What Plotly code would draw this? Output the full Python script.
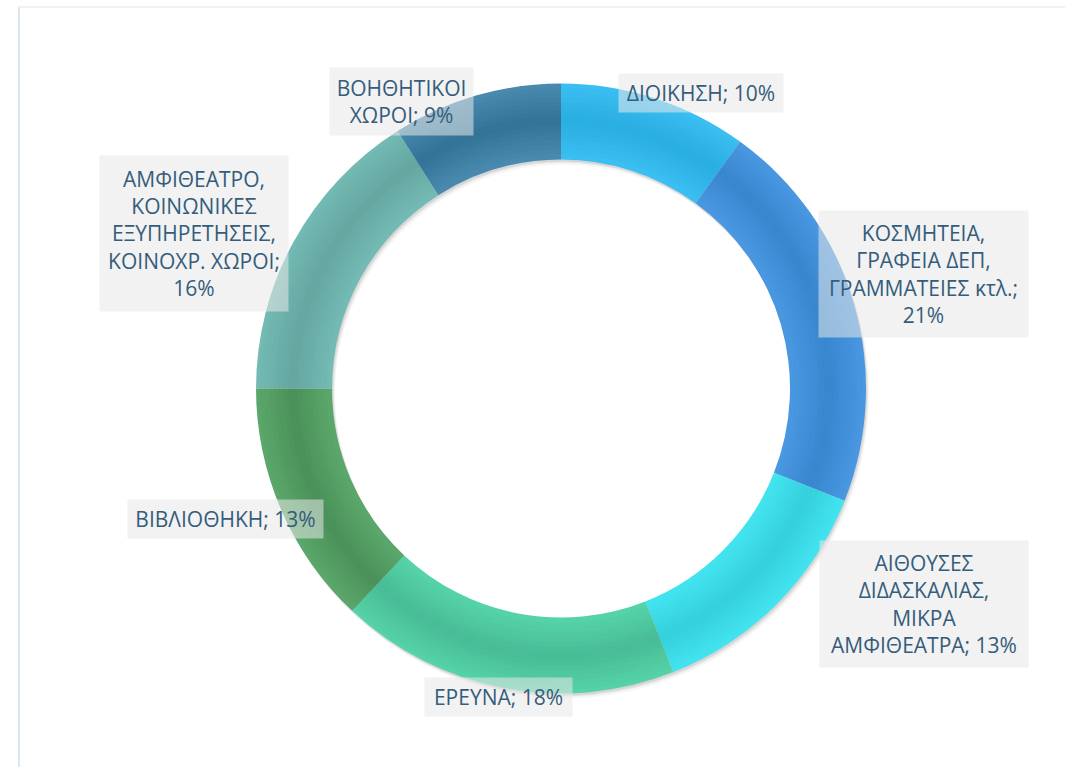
import plotly.graph_objects as go

W, H = 1065, 767

categories = [
    "ΔΙΟΙΚΗΣΗ",
    "ΚΟΣΜΗΤΕΙΑ, ΓΡΑΦΕΙΑ ΔΕΠ, ΓΡΑΜΜΑΤΕΙΕΣ κτλ.",
    "ΑΙΘΟΥΣΕΣ ΔΙΔΑΣΚΑΛΙΑΣ, ΜΙΚΡΑ ΑΜΦΙΘΕΑΤΡΑ",
    "ΕΡΕΥΝΑ",
    "ΒΙΒΛΙΟΘΗΚΗ",
    "ΑΜΦΙΘΕΑΤΡΟ, ΚΟΙΝΩΝΙΚΕΣ ΕΞΥΠΗΡΕΤΗΣΕΙΣ, ΚΟΙΝΟΧΡ. ΧΩΡΟΙ",
    "ΒΟΗΘΗΤΙΚΟΙ ΧΩΡΟΙ",
]
values = [10, 21, 13, 18, 13, 16, 9]
label_texts = [
    "ΔΙΟΙΚΗΣΗ; 10%",
    "ΚΟΣΜΗΤΕΙΑ,<br>ΓΡΑΦΕΙΑ ΔΕΠ,<br>ΓΡΑΜΜΑΤΕΙΕΣ κτλ.;<br>21%",
    "ΑΙΘΟΥΣΕΣ<br>ΔΙΔΑΣΚΑΛΙΑΣ,<br>ΜΙΚΡΑ<br>ΑΜΦΙΘΕΑΤΡΑ; 13%",
    "ΕΡΕΥΝΑ; 18%",
    "ΒΙΒΛΙΟΘΗΚΗ; 13%",
    "ΑΜΦΙΘΕΑΤΡΟ,<br>ΚΟΙΝΩΝΙΚΕΣ<br>ΕΞΥΠΗΡΕΤΗΣΕΙΣ,<br>ΚΟΙΝΟΧΡ. ΧΩΡΟΙ;<br>16%",
    "ΒΟΗΘΗΤΙΚΟΙ<br>ΧΩΡΟΙ; 9%",
]
# slice colours: lighter edge tone and darker centre tone (gradient look)
edge_colors = ["#3cbff3", "#4a98e2", "#42e4f0", "#56d4a9", "#5ca96c", "#74bbb5", "#4b8bb0"]
center_colors = ["#1aa0d4", "#2877bd", "#2ac0cc", "#3ca886", "#3a7c48", "#5a948f", "#1c5f80"]

# label boxes (left, top, right, bottom) in pixels
label_boxes = [
    (619, 74, 783, 112),
    (819, 211, 1028, 337),
    (820, 541, 1028, 667),
    (425, 678, 572, 716),
    (128, 500, 323, 538),
    (100, 156, 288, 311),
    (330, 68, 473, 135),
]

cx, cy, R, R_IN = 561, 388.5, 305, 229


def hex2rgb(h):
    h = h.lstrip("#")
    return tuple(int(h[i:i + 2], 16) for i in (0, 2, 4))


def mix(c1, c2, f):
    a, b = hex2rgb(c1), hex2rgb(c2)
    return "rgb(%d,%d,%d)" % tuple(round(a[i] + (b[i] - a[i]) * f) for i in range(3))


def domain_for(r, dx=0, dy=0):
    return dict(x=[(cx + dx - r) / W, (cx + dx + r) / W],
                y=[1 - (cy + dy + r) / H, 1 - (cy + dy - r) / H])


fig = go.Figure()

# soft shadow under the ring
for dx, dy, a in [(1, 2, 0.07), (2, 3, 0.06), (3, 5, 0.04)]:
    fig.add_trace(go.Pie(
        values=values, sort=False, direction="clockwise", rotation=0,
        hole=R_IN / R, textinfo="none", hoverinfo="skip", showlegend=False,
        marker=dict(colors=["rgba(0,0,0,%s)" % a] * len(values), line=dict(width=0)),
        domain=domain_for(R, dx, dy),
    ))

# ring drawn as concentric bands to imitate the radial shading
N = 16
for i in range(N):
    r_o = R - (R - R_IN) * i / N
    r_i = R - (R - R_IN) * (i + 1) / N
    t = ((r_o + r_i) / 2 - R_IN) / (R - R_IN)
    f = (1 - abs(2 * t - 1)) * 0.55
    cols = [mix(e, c, f) for e, c in zip(edge_colors, center_colors)]
    r_draw = r_o if i == 0 else r_o + 0.8
    fig.add_trace(go.Pie(
        labels=categories,
        values=values,
        sort=False,
        direction="clockwise",
        rotation=0,
        hole=r_i / r_draw,
        marker=dict(colors=cols, line=dict(width=0)),
        textinfo="none",
        hoverinfo="label+percent" if i == N // 2 else "skip",
        showlegend=False,
        domain=domain_for(r_draw),
    ))

for txt, (l, t, r, b) in zip(label_texts, label_boxes):
    fig.add_annotation(
        x=(l + r) / 2 / W, y=1 - (t + b) / 2 / H,
        xref="paper", yref="paper",
        xanchor="center", yanchor="middle",
        text=txt, showarrow=False,
        width=r - l, height=b - t,
        borderpad=0,
        bgcolor="rgba(232,232,232,0.55)",
        font=dict(family="Open Sans", size=21, color="#355d7b"),
        align="center", valign="middle",
    )

fig.add_shape(type="line", xref="paper", yref="paper",
              x0=19 / W, x1=19 / W, y0=0, y1=1 - 7 / H,
              line=dict(color="#dde7f0", width=2))
fig.add_shape(type="line", xref="paper", yref="paper",
              x0=18 / W, x1=1, y0=1 - 7 / H, y1=1 - 7 / H,
              line=dict(color="#ececec", width=1.5))

fig.update_layout(
    width=W, height=H,
    margin=dict(l=0, r=0, t=0, b=0),
    paper_bgcolor="white",
    plot_bgcolor="white",
)

fig.write_html("out.html",
               config={"displayModeBar": False},
               post_script="document.body.style.margin='0';document.body.style.overflow='hidden';")
